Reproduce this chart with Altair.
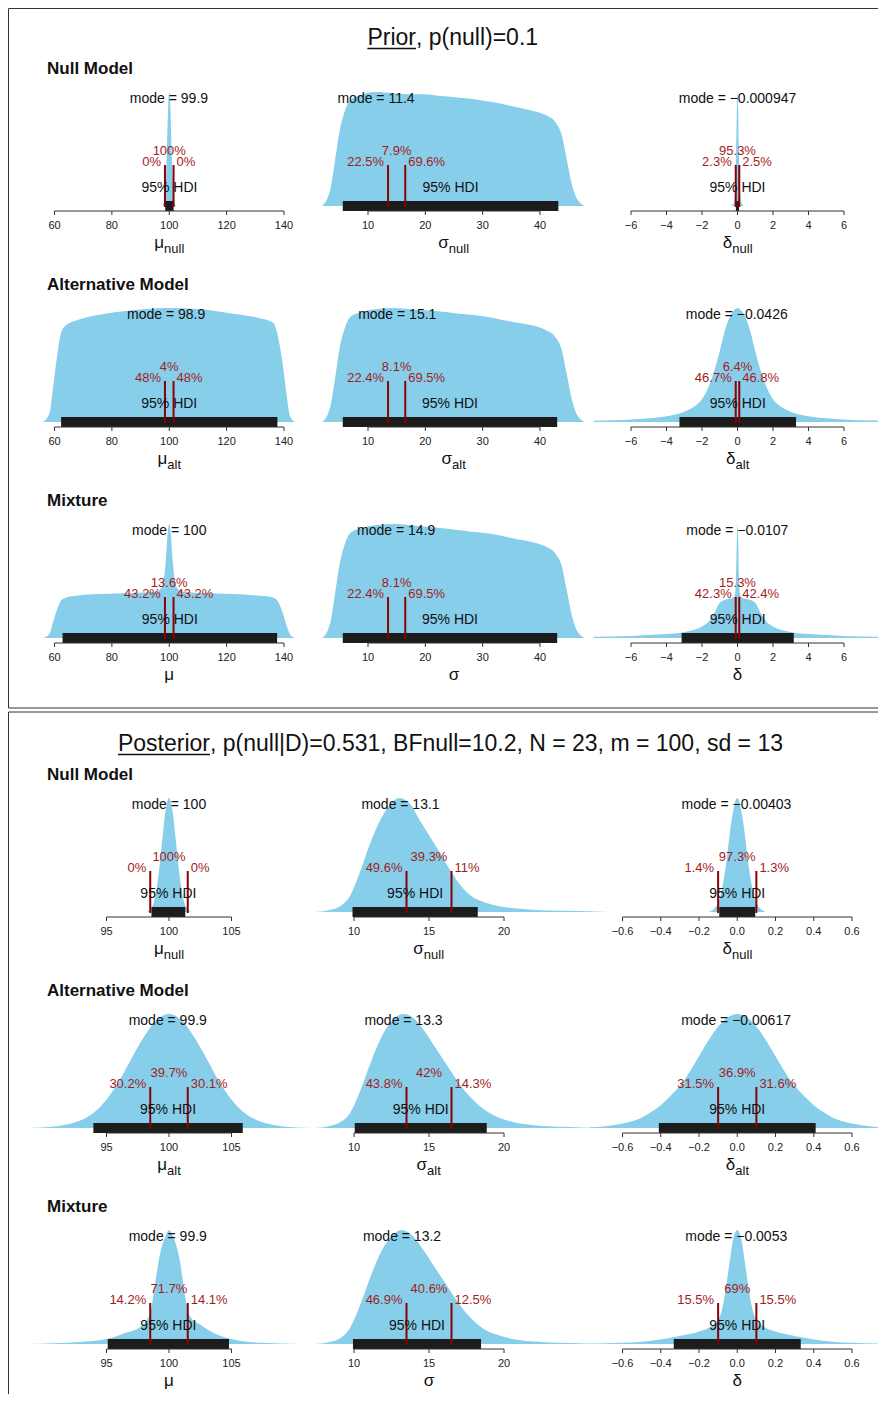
import altair as alt
import pandas as pd

FONT = "Liberation Sans"
SKY = "#87CEEB"
DARKRED = "#8B0000"
REDTXT = "#A31C1C"
BLACK = "#111111"

# ---------------- density curves (x, relative height) ----------------
# Prior - Null model
PRIOR_MU_NULL_X = [97.6, 98.3, 98.8, 99.2, 99.6, 100.0, 100.4, 100.8, 101.2, 101.7, 102.4]
PRIOR_MU_NULL_Y = [0.0, 0.06, 0.22, 0.5, 0.86, 1.0, 0.86, 0.5, 0.22, 0.06, 0.0]
PRIOR_SIGMA_NULL_X = [2.0, 3.4, 4.2, 5.1, 6.0, 6.9, 8.6, 11.2, 14.7, 17.3, 20.0, 22.6, 25.2,
                      27.8, 30.4, 33.0, 35.6, 38.3, 40.9, 42.6, 43.8, 44.7, 45.6, 46.6, 47.9]
PRIOR_SIGMA_NULL_Y = [0.0, 0.14, 0.38, 0.67, 0.84, 0.93, 0.97, 1.0, 0.99, 0.98, 0.98, 0.965, 0.955,
                      0.94, 0.92, 0.9, 0.87, 0.84, 0.8, 0.74, 0.62, 0.4, 0.18, 0.05, 0.0]
PRIOR_DELTA_NULL_X = [-0.35, -0.2, -0.12, -0.07, -0.035, 0.0, 0.035, 0.07, 0.12, 0.2, 0.35]
PRIOR_DELTA_NULL_Y = [0.0, 0.03, 0.2, 0.55, 0.88, 1.0, 0.88, 0.55, 0.2, 0.03, 0.0]
# Prior - Alternative model
PRIOR_MU_ALT_X = [55.9, 58.3, 59.4, 61.2, 62.3, 64.1, 67.6, 75.7, 87.3, 99.0, 110.7, 122.3,
                  131.6, 136.2, 137.9, 139.7, 141.0, 142.1, 143.8]
PRIOR_MU_ALT_Y = [0.0, 0.08, 0.28, 0.63, 0.78, 0.85, 0.89, 0.94, 0.98, 1.0, 0.99, 0.95,
                  0.91, 0.87, 0.75, 0.48, 0.22, 0.05, 0.0]
PRIOR_SIGMA_ALT_X = [2.0, 3.4, 4.2, 5.1, 6.0, 6.9, 8.6, 11.2, 14.7, 17.3, 20.0, 22.6, 25.2,
                     27.8, 30.4, 33.0, 35.6, 38.3, 40.9, 42.6, 43.8, 44.7, 45.6, 46.6, 47.9]
PRIOR_SIGMA_ALT_Y = [0.0, 0.13, 0.36, 0.66, 0.83, 0.92, 0.96, 0.99, 1.0, 0.99, 0.98, 0.97, 0.955,
                     0.94, 0.925, 0.9, 0.875, 0.85, 0.81, 0.75, 0.63, 0.41, 0.19, 0.05, 0.0]
PRIOR_DELTA_ALT_X = [-8.1, -7.0, -6.0, -5.0, -4.0, -3.0, -2.5, -2.0, -1.5, -1.0, -0.75, -0.5, -0.25,
                     0.0, 0.25, 0.5, 0.75, 1.0, 1.5, 2.0, 2.5, 3.0, 4.0, 5.0, 6.0, 7.0, 8.1]
PRIOR_DELTA_ALT_Y = [0.012, 0.016, 0.022, 0.032, 0.05, 0.09, 0.13, 0.2, 0.36, 0.62, 0.78, 0.9, 0.97,
                     1.0, 0.97, 0.9, 0.78, 0.62, 0.36, 0.2, 0.13, 0.09, 0.05, 0.032, 0.022, 0.016, 0.012]
# Prior - Mixture
PRIOR_MU_MIX_X = [55.9, 58.3, 59.4, 61.2, 62.3, 64.1, 67.6, 75.7, 87.3, 95.0, 97.0, 98.0, 98.8,
                  99.4, 100.0, 100.6, 101.2, 102.0, 103.0, 105.0, 110.7, 122.3, 131.6, 136.2,
                  137.9, 139.7, 141.0, 142.1, 143.8]
PRIOR_MU_MIX_Y = [0.0, 0.04, 0.13, 0.27, 0.33, 0.355, 0.37, 0.385, 0.395, 0.405, 0.43, 0.5, 0.68,
                  0.9, 1.0, 0.9, 0.68, 0.5, 0.43, 0.405, 0.395, 0.385, 0.37, 0.355,
                  0.32, 0.21, 0.1, 0.03, 0.0]
PRIOR_SIGMA_MIX_X = [2.0, 3.4, 4.2, 5.1, 6.0, 6.9, 8.6, 11.2, 14.7, 17.3, 20.0, 22.6, 25.2,
                     27.8, 30.4, 33.0, 35.6, 38.3, 40.9, 42.6, 43.8, 44.7, 45.6, 46.6, 47.9]
PRIOR_SIGMA_MIX_Y = [0.0, 0.13, 0.37, 0.66, 0.83, 0.92, 0.96, 0.99, 1.0, 0.99, 0.975, 0.965, 0.95,
                     0.935, 0.92, 0.9, 0.87, 0.845, 0.805, 0.745, 0.63, 0.41, 0.19, 0.05, 0.0]
PRIOR_DELTA_MIX_X = [-8.1, -6.0, -4.5, -3.2, -2.6, -2.0, -1.6, -1.3, -1.0, -0.6, -0.3, -0.15, -0.08,
                     -0.04, 0.0, 0.04, 0.08, 0.15, 0.3, 0.6, 1.0, 1.3, 1.6, 2.0, 2.6, 3.2, 4.5, 6.0, 8.1]
PRIOR_DELTA_MIX_Y = [0.01, 0.018, 0.03, 0.045, 0.065, 0.1, 0.15, 0.22, 0.31, 0.34, 0.35, 0.38, 0.55,
                     0.85, 1.0, 0.85, 0.55, 0.38, 0.35, 0.34, 0.31, 0.22, 0.15, 0.1, 0.065, 0.045, 0.03, 0.018, 0.01]

# Posterior - Null model
POST_MU_NULL_X = [98.2, 98.5, 98.8, 99.1, 99.4, 99.7, 100.0, 100.3, 100.6, 100.9, 101.2, 101.5, 101.8]
POST_MU_NULL_Y = [0.0, 0.025, 0.09, 0.27, 0.57, 0.87, 1.0, 0.87, 0.57, 0.27, 0.09, 0.025, 0.0]
POST_SIGMA_NULL_X = [7.4, 8.3, 9.07, 9.73, 10.4, 11.07, 11.73, 12.4, 13.0, 13.73, 14.4, 15.07, 15.73,
                     16.4, 17.07, 17.73, 18.84, 20.2, 21.9, 24.2, 27.0]
POST_SIGMA_NULL_Y = [0.0, 0.015, 0.05, 0.14, 0.35, 0.6, 0.8, 0.94, 1.0, 0.95, 0.8, 0.66, 0.52,
                     0.37, 0.24, 0.15, 0.08, 0.04, 0.02, 0.01, 0.0]
POST_DELTA_NULL_X = [-0.15, -0.12, -0.09, -0.06, -0.03, 0.0, 0.03, 0.06, 0.09, 0.12, 0.15]
POST_DELTA_NULL_Y = [0.0, 0.03, 0.13, 0.4, 0.8, 1.0, 0.8, 0.4, 0.13, 0.03, 0.0]
# Posterior - Alternative model
POST_MU_ALT_X = [88.6, 91.0, 92.0, 93.0, 94.0, 95.0, 96.0, 97.0, 98.0, 99.0, 100.0, 101.0, 102.0,
                 103.0, 104.0, 105.0, 106.0, 107.0, 108.0, 109.0, 111.4]
POST_MU_ALT_Y = [0.0, 0.015, 0.035, 0.07, 0.135, 0.25, 0.41, 0.61, 0.8, 0.945, 1.0, 0.945, 0.8,
                 0.61, 0.41, 0.25, 0.135, 0.07, 0.035, 0.015, 0.0]
POST_SIGMA_ALT_X = [7.4, 8.3, 9.07, 9.73, 10.4, 11.07, 11.73, 12.4, 13.3, 14.0, 14.7, 15.3, 16.0,
                    16.7, 17.3, 18.0, 18.7, 19.5, 20.5, 22.0, 24.0, 26.4]
POST_SIGMA_ALT_Y = [0.0, 0.015, 0.05, 0.13, 0.32, 0.56, 0.77, 0.92, 1.0, 0.96, 0.85, 0.73, 0.59,
                    0.45, 0.34, 0.24, 0.16, 0.1, 0.055, 0.025, 0.01, 0.0]
POST_DELTA_ALT_X = [-0.77, -0.7, -0.6, -0.5, -0.45, -0.4, -0.35, -0.3, -0.25, -0.2, -0.15, -0.1, -0.05,
                    0.0, 0.05, 0.1, 0.15, 0.2, 0.25, 0.3, 0.35, 0.4, 0.45, 0.5, 0.6, 0.7, 0.77]
POST_DELTA_ALT_Y = [0.006, 0.014, 0.04, 0.09, 0.14, 0.2, 0.28, 0.37, 0.49, 0.63, 0.77, 0.89, 0.97,
                    1.0, 0.97, 0.89, 0.77, 0.63, 0.49, 0.37, 0.28, 0.2, 0.14, 0.09, 0.04, 0.014, 0.006]
# Posterior - Mixture
POST_MU_MIX_X = [88.5, 93.1, 95.1, 96.6, 97.7, 98.5, 98.9, 99.3, 99.7, 100.0, 100.3, 100.9, 101.3,
                 101.7, 102.5, 103.5, 104.9, 107.3, 110.6]
POST_MU_MIX_Y = [0.0, 0.02, 0.045, 0.1, 0.15, 0.27, 0.54, 0.8, 0.94, 1.0, 0.95, 0.71, 0.41,
                 0.24, 0.17, 0.1, 0.045, 0.01, 0.0]
POST_SIGMA_MIX_X = [7.4, 8.3, 9.07, 9.73, 10.4, 11.07, 11.73, 12.4, 13.2, 13.9, 14.6, 15.3, 16.0,
                    16.7, 17.3, 18.0, 18.8, 19.8, 21.0, 22.5, 24.5, 26.4]
POST_SIGMA_MIX_Y = [0.0, 0.015, 0.05, 0.14, 0.34, 0.58, 0.79, 0.93, 1.0, 0.95, 0.83, 0.69, 0.55,
                    0.41, 0.3, 0.2, 0.12, 0.07, 0.035, 0.018, 0.008, 0.0]
POST_DELTA_MIX_X = [-0.77, -0.6, -0.5, -0.4, -0.3, -0.2, -0.15, -0.1, -0.08, -0.06, -0.04, -0.02, 0.0,
                    0.02, 0.04, 0.06, 0.08, 0.1, 0.15, 0.2, 0.3, 0.4, 0.5, 0.6, 0.77]
POST_DELTA_MIX_Y = [0.003, 0.01, 0.02, 0.04, 0.07, 0.11, 0.14, 0.21, 0.3, 0.48, 0.72, 0.93, 1.0,
                    0.93, 0.72, 0.48, 0.3, 0.21, 0.14, 0.11, 0.07, 0.04, 0.02, 0.01, 0.003]

# ---------------- summary values ----------------
ROPE_MU = [98.5, 101.5]
ROPE_SIGMA = [13.5, 16.5]
ROPE_DELTA = [-0.1, 0.1]

PRIOR_HDI_LO = [98.6, 5.6, -0.09, 62.3, 5.6, -3.27, 62.8, 5.6, -3.15]
PRIOR_HDI_HI = [101.5, 43.2, 0.09, 137.7, 43.0, 3.3, 137.6, 43.0, 3.17]
POST_HDI_LO = [98.6, 9.9, -0.094, 93.95, 10.05, -0.41, 95.1, 9.93, -0.332]
POST_HDI_HI = [101.3, 18.25, 0.094, 105.9, 18.85, 0.41, 104.8, 18.47, 0.332]

PRIOR_MODES = [99.9, 11.4, -0.000947, 98.9, 15.1, -0.0426, 100, 14.9, -0.0107]
POST_MODES = [100, 13.1, -0.00403, 99.9, 13.3, -0.00617, 99.9, 13.2, -0.0053]

PRIOR_PCT_LO = [0, 22.5, 2.3, 48, 22.4, 46.7, 43.2, 22.4, 42.3]
PRIOR_PCT_IN = [100, 7.9, 95.3, 4, 8.1, 6.4, 13.6, 8.1, 15.3]
PRIOR_PCT_HI = [0, 69.6, 2.5, 48, 69.5, 46.8, 43.2, 69.5, 42.4]
POST_PCT_LO = [0, 49.6, 1.4, 30.2, 43.8, 31.5, 14.2, 46.9, 15.5]
POST_PCT_IN = [100, 39.3, 97.3, 39.7, 42, 36.9, 71.7, 40.6, 69]
POST_PCT_HI = [0, 11, 1.3, 30.1, 14.3, 31.6, 14.1, 12.5, 15.5]

PRIOR_TICKS_MU = [60, 80, 100, 120, 140]
PRIOR_TICKS_SIGMA = [10, 20, 30, 40]
PRIOR_TICKS_DELTA = [-6, -4, -2, 0, 2, 4, 6]
POST_TICKS_MU = [95, 100, 105]
POST_TICKS_SIGMA = [10, 15, 20]
POST_TICKS_DELTA = [-0.6, -0.4, -0.2, 0.0, 0.2, 0.4, 0.6]

SYMBOLS = ["\u03bc", "\u03c3", "\u03b4"]
SUBS = ["null", "alt", ""]
ROW_TITLES = ["Null Model", "Alternative Model", "Mixture"]
SECTION_WORD = ["Prior", "Posterior"]
SECTION_REST = [", p(null)=0.1", ", p(null|D)=0.531, BFnull=10.2, N = 23, m = 100, sd = 13"]

# ---------------- layout (page pixels) ----------------
OX, OY = 8, 8
W, H = 870, 1386
DENS_H = 114
BASE_Y = [[206, 422, 638], [912, 1128, 1344]]
XMAP = [
    [([60, 140], [54.5, 284]), ([10, 40], [368, 540]), ([-6, 6], [631, 844])],
    [([95, 105], [106.5, 231.5]), ([10, 20], [354, 504]), ([-0.6, 0.6], [622.5, 852])],
]
TICK_DEC = [[None, None, None], [None, None, 1]]
TITLE_ANCHOR = [416, 210]
TITLE_WORD_W = [48.6, 92.0]
TITLE_BASE = [45, 751]

CURVES = [
    [[(PRIOR_MU_NULL_X, PRIOR_MU_NULL_Y), (PRIOR_SIGMA_NULL_X, PRIOR_SIGMA_NULL_Y), (PRIOR_DELTA_NULL_X, PRIOR_DELTA_NULL_Y)],
     [(PRIOR_MU_ALT_X, PRIOR_MU_ALT_Y), (PRIOR_SIGMA_ALT_X, PRIOR_SIGMA_ALT_Y), (PRIOR_DELTA_ALT_X, PRIOR_DELTA_ALT_Y)],
     [(PRIOR_MU_MIX_X, PRIOR_MU_MIX_Y), (PRIOR_SIGMA_MIX_X, PRIOR_SIGMA_MIX_Y), (PRIOR_DELTA_MIX_X, PRIOR_DELTA_MIX_Y)]],
    [[(POST_MU_NULL_X, POST_MU_NULL_Y), (POST_SIGMA_NULL_X, POST_SIGMA_NULL_Y), (POST_DELTA_NULL_X, POST_DELTA_NULL_Y)],
     [(POST_MU_ALT_X, POST_MU_ALT_Y), (POST_SIGMA_ALT_X, POST_SIGMA_ALT_Y), (POST_DELTA_ALT_X, POST_DELTA_ALT_Y)],
     [(POST_MU_MIX_X, POST_MU_MIX_Y), (POST_SIGMA_MIX_X, POST_SIGMA_MIX_Y), (POST_DELTA_MIX_X, POST_DELTA_MIX_Y)]],
]
HDI_LO = [PRIOR_HDI_LO, POST_HDI_LO]
HDI_HI = [PRIOR_HDI_HI, POST_HDI_HI]
MODES = [PRIOR_MODES, POST_MODES]
PCT_LO = [PRIOR_PCT_LO, POST_PCT_LO]
PCT_IN = [PRIOR_PCT_IN, POST_PCT_IN]
PCT_HI = [PRIOR_PCT_HI, POST_PCT_HI]
ROPES = [ROPE_MU, ROPE_SIGMA, ROPE_DELTA]
TICKS = [[PRIOR_TICKS_MU, PRIOR_TICKS_SIGMA, PRIOR_TICKS_DELTA],
         [POST_TICKS_MU, POST_TICKS_SIGMA, POST_TICKS_DELTA]]

SUB_EM = {"null": 1.556, "alt": 1.056}
SYM_FS, SUB_FS = 17, 13


def fnum(v, dec=None):
    s = f"{v:.{dec}f}" if dec is not None else f"{v:g}"
    return s.replace("-", "\u2212")


def PY(field):
    return alt.Y(field, type="quantitative", scale=None, axis=None)


def PX(field):
    return alt.X(field, type="quantitative", scale=None, axis=None)


layers = []

# frames
frame_df = pd.DataFrame({
    "x": [0.5, 0.5, 0.5, 0.5, 0.5],
    "x2": [W, 0.5, W, W, 0.5],
    "y": [0.5, 0.5, 700, 704, 704],
    "y2": [0.5, 700, 700, 704, H],
})
layers.append(alt.Chart(frame_df).mark_rule(color="#333333", strokeWidth=1).encode(
    x=PX("x"), x2="x2:Q", y=PY("y"), y2="y2:Q"))

# section titles & row headings
for s in range(2):
    a = TITLE_ANCHOR[s] - OX
    tb = TITLE_BASE[s] - OY
    layers.append(alt.Chart(pd.DataFrame({"x": [a], "y": [tb], "t": [SECTION_WORD[s]]})).mark_text(
        font=FONT, fontSize=23, align="right", baseline="alphabetic", color=BLACK).encode(
        x=PX("x"), y=PY("y"), text="t:N"))
    layers.append(alt.Chart(pd.DataFrame({"x": [a], "y": [tb], "t": [SECTION_REST[s]]})).mark_text(
        font=FONT, fontSize=23, align="left", baseline="alphabetic", color=BLACK).encode(
        x=PX("x"), y=PY("y"), text="t:N"))
    layers.append(alt.Chart(pd.DataFrame({"x": [a - TITLE_WORD_W[s]], "x2": [a], "y": [tb + 3.5]})).mark_rule(
        color=BLACK, strokeWidth=1.3).encode(x=PX("x"), x2="x2:Q", y=PY("y")))
    hd = pd.DataFrame({"x": [47 - OX] * 3,
                       "y": [BASE_Y[s][r] - 137 - OY for r in range(3)],
                       "t": ROW_TITLES})
    layers.append(alt.Chart(hd).mark_text(font=FONT, fontSize=17, fontWeight="bold", align="left",
                                          baseline="middle", color=BLACK).encode(
        x=PX("x"), y=PY("y"), text="t:N"))

# panels
for s in range(2):
    for c in range(3):
        dom, rng = XMAP[s][c]
        sc = alt.Scale(domain=dom, range=[rng[0] - OX, rng[1] - OX], nice=False, zero=False)

        def XE(field, sc=sc):
            return alt.X(field, type="quantitative", scale=sc, axis=None)

        hdi_rows, rope_rows, axis_rows, tick_rows = [], [], [], []
        ctext, ltext, rtext = [], [], []
        ticks = TICKS[s][c]
        rope = ROPES[c]
        for r in range(3):
            i = r * 3 + c
            b = BASE_Y[s][r] - OY
            xs, ys = CURVES[s][r][c]
            ysc = alt.Scale(domain=[0, 1], range=[b, b - DENS_H], nice=False, zero=False)
            layers.append(alt.Chart(pd.DataFrame({"x": xs, "y": ys})).mark_area(
                color=SKY, interpolate="monotone").encode(
                x=XE("x"), y=alt.Y("y:Q", scale=ysc, axis=None, stack=None), y2=alt.datum(0)))
            lo, hi = HDI_LO[s][i], HDI_HI[s][i]
            hdi_rows.append({"x": lo, "x2": hi, "py": b - 5, "py2": b + 5})
            for v in rope:
                rope_rows.append({"x": v, "py": b - 41, "py2": b + 1})
            axis_rows.append({"x": ticks[0], "x2": ticks[-1], "py": b + 5})
            for t in ticks:
                tick_rows.append({"x": t, "py": b + 5, "py2": b + 9})
                ctext.append({"x": t, "py": b + 20, "t": fnum(t, TICK_DEC[s][c]), "col": "#222222", "fs": 11})
            ctext.append({"x": MODES[s][i], "py": b - 107, "t": "mode = " + fnum(MODES[s][i]),
                          "col": BLACK, "fs": 14})
            ctext.append({"x": (lo + hi) / 2, "py": b - 18, "t": "95% HDI", "col": BLACK, "fs": 14})
            ctext.append({"x": (rope[0] + rope[1]) / 2, "py": b - 55, "t": f"{PCT_IN[s][i]:g}%",
                          "col": REDTXT, "fs": 13})
            ltext.append({"x": rope[0], "py": b - 44, "t": f"{PCT_LO[s][i]:g}%"})
            rtext.append({"x": rope[1], "py": b - 44, "t": f"{PCT_HI[s][i]:g}%"})

        layers.append(alt.Chart(pd.DataFrame(hdi_rows)).mark_rect(color="#1c1c1c").encode(
            x=XE("x"), x2="x2:Q", y=PY("py"), y2="py2:Q"))
        layers.append(alt.Chart(pd.DataFrame(rope_rows)).mark_rule(color=DARKRED, strokeWidth=2).encode(
            x=XE("x"), y=PY("py"), y2="py2:Q"))
        layers.append(alt.Chart(pd.DataFrame(axis_rows)).mark_rule(color="#333333", strokeWidth=1).encode(
            x=XE("x"), x2="x2:Q", y=PY("py")))
        layers.append(alt.Chart(pd.DataFrame(tick_rows)).mark_rule(color="#333333", strokeWidth=1).encode(
            x=XE("x"), y=PY("py"), y2="py2:Q"))
        layers.append(alt.Chart(pd.DataFrame(ctext)).mark_text(font=FONT, align="center", baseline="middle").encode(
            x=XE("x"), y=PY("py"), text="t:N",
            color=alt.Color("col:N", scale=None), size=alt.Size("fs:Q", scale=None)))
        layers.append(alt.Chart(pd.DataFrame(ltext)).mark_text(
            font=FONT, fontSize=13, align="right", baseline="middle", dx=-4, color=REDTXT).encode(
            x=XE("x"), y=PY("py"), text="t:N"))
        layers.append(alt.Chart(pd.DataFrame(rtext)).mark_text(
            font=FONT, fontSize=13, align="left", baseline="middle", dx=3, color=REDTXT).encode(
            x=XE("x"), y=PY("py"), text="t:N"))

        # axis titles with subscripts
        center = (dom[0] + dom[1]) / 2
        for r in range(3):
            b = BASE_Y[s][r] - OY
            sub = SUBS[r]
            sym_df = pd.DataFrame({"x": [center], "py": [b + 42], "t": [SYMBOLS[c]]})
            if sub:
                wsym = 0.58 * SYM_FS
                wsub = SUB_EM[sub] * SUB_FS
                dxa = wsym - (wsym + wsub) / 2
                layers.append(alt.Chart(sym_df).mark_text(
                    font=FONT, fontSize=SYM_FS, align="right", baseline="alphabetic", dx=dxa, color=BLACK).encode(
                    x=XE("x"), y=PY("py"), text="t:N"))
                sub_df = pd.DataFrame({"x": [center], "py": [b + 47], "t": [sub]})
                layers.append(alt.Chart(sub_df).mark_text(
                    font=FONT, fontSize=SUB_FS, align="left", baseline="alphabetic", dx=dxa, color=BLACK).encode(
                    x=XE("x"), y=PY("py"), text="t:N"))
            else:
                layers.append(alt.Chart(sym_df).mark_text(
                    font=FONT, fontSize=SYM_FS, align="center", baseline="alphabetic", color=BLACK).encode(
                    x=XE("x"), y=PY("py"), text="t:N"))

chart = alt.layer(*layers).resolve_scale(
    x="independent", y="independent"
).properties(
    width=W, height=H, padding=0,
    autosize=alt.AutoSizeParams(type="none"),
    background="white",
).configure_view(stroke=None)

chart.save("out.html", embed_options={"renderer": "svg", "actions": False})
